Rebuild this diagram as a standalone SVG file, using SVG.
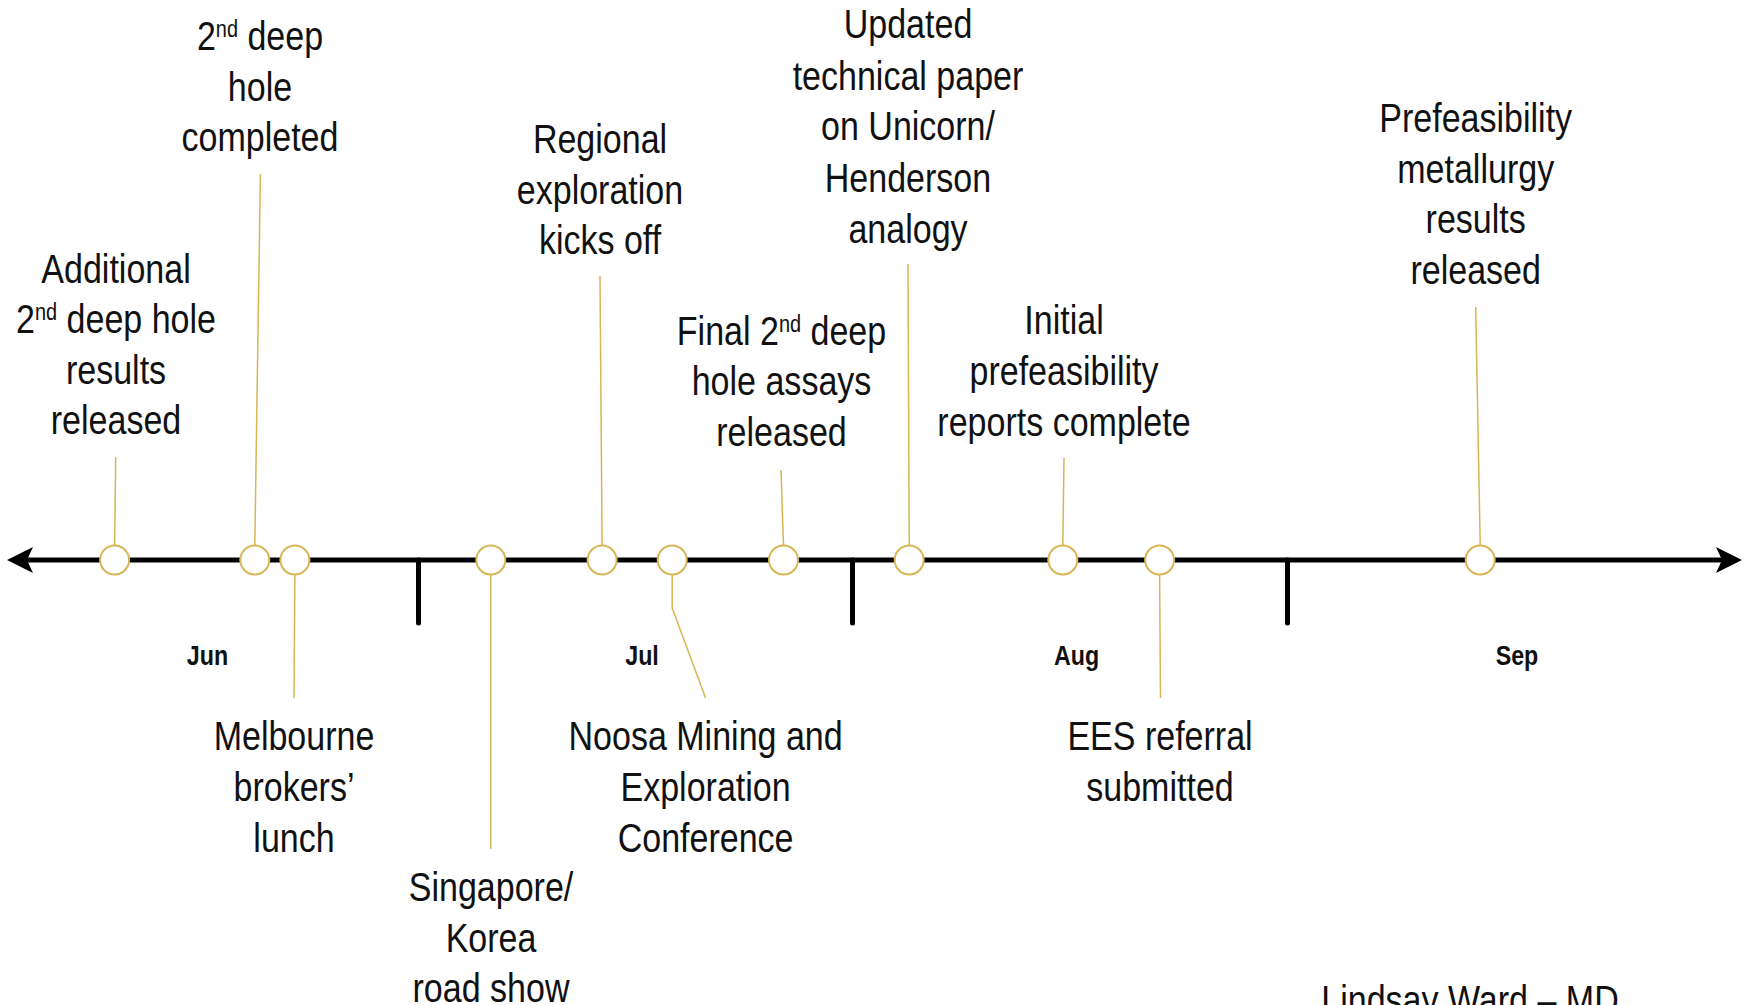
<svg xmlns="http://www.w3.org/2000/svg" width="1745" height="1005" viewBox="0 0 1745 1005">
<style>
  .lbl { font-family: "Liberation Sans", Arial, sans-serif; font-size: 41px; fill: #111; text-anchor: middle; }
  .sup { font-size: 24px; }
  .month { font-family: "Liberation Sans", Arial, sans-serif; font-size: 28px; font-weight: bold; fill: #111; text-anchor: middle; }
  .dot { fill: #fff; stroke: #D8B656; stroke-width: 2; }
  .lead { fill: none; stroke: #D8B656; stroke-width: 1.5; }
  .axis { stroke: #000; stroke-width: 5; fill: none; }
  .tick { stroke: #000; stroke-width: 5; stroke-linecap: round; fill: none; }
  .head { fill: #000; }
</style>
<rect width="1745" height="1005" fill="#fff"/>

<g id="axis">
  <line class="axis" x1="26" y1="560" x2="1722" y2="560"/>
  <path class="head" d="M7,560 L33,547 L27,560 L33,573 Z"/>
  <path class="head" d="M1742,560 L1716,547 L1722,560 L1716,573 Z"/>
  <line class="tick" x1="418.5" y1="560" x2="418.5" y2="623"/>
  <line class="tick" x1="852.5" y1="560" x2="852.5" y2="623"/>
  <line class="tick" x1="1287.5" y1="560" x2="1287.5" y2="623"/>
</g>

<g id="months">
  <g transform="translate(207.5,0) scale(0.83,1)"><text class="month" x="0" y="665">Jun</text></g>
  <g transform="translate(642,0) scale(0.83,1)"><text class="month" x="0" y="665">Jul</text></g>
  <g transform="translate(1076.5,0) scale(0.83,1)"><text class="month" x="0" y="665">Aug</text></g>
  <g transform="translate(1517,0) scale(0.83,1)"><text class="month" x="0" y="665">Sep</text></g>
</g>

<g id="connectors">
  <line class="lead" x1="115.7" y1="457" x2="114.6" y2="545"/>
  <line class="lead" x1="260.4" y1="174" x2="254.8" y2="545"/>
  <line class="lead" x1="294.9" y1="575" x2="294" y2="698"/>
  <line class="lead" x1="490.8" y1="575" x2="490.8" y2="849"/>
  <line class="lead" x1="600" y1="276" x2="602.1" y2="545"/>
  <polyline class="lead" points="672.2,575 672.2,608 705.6,698"/>
  <line class="lead" x1="781" y1="470" x2="783.5" y2="545"/>
  <line class="lead" x1="908" y1="264" x2="909.2" y2="545"/>
  <line class="lead" x1="1064" y1="458" x2="1062.8" y2="545"/>
  <line class="lead" x1="1159.6" y1="575" x2="1160.5" y2="698"/>
  <line class="lead" x1="1475.7" y1="307" x2="1480.2" y2="545"/>
</g>

<g id="n-additional">
  <circle class="dot" cx="114.6" cy="560" r="14.5"/>
  <g transform="translate(116,0) scale(0.83,1)"><text class="lbl"><tspan x="0" y="283">Additional</tspan><tspan x="0" y="333">2<tspan class="sup" dy="-13">nd</tspan><tspan dy="13"> deep hole</tspan></tspan><tspan x="0" y="384">results</tspan><tspan x="0" y="434">released</tspan></text></g>
</g>

<g id="n-completed">
  <circle class="dot" cx="254.8" cy="560" r="14.5"/>
  <g transform="translate(260,0) scale(0.83,1)"><text class="lbl"><tspan x="0" y="50">2<tspan class="sup" dy="-13">nd</tspan><tspan dy="13"> deep</tspan></tspan><tspan x="0" y="101">hole</tspan><tspan x="0" y="151">completed</tspan></text></g>
</g>

<g id="n-melbourne">
  <circle class="dot" cx="294.9" cy="560" r="14.5"/>
  <g transform="translate(294,0) scale(0.83,1)"><text class="lbl"><tspan x="0" y="750">Melbourne</tspan><tspan x="0" y="801">brokers’</tspan><tspan x="0" y="852">lunch</tspan></text></g>
</g>

<g id="n-singapore">
  <circle class="dot" cx="490.8" cy="560" r="14.5"/>
  <g transform="translate(491,0) scale(0.83,1)"><text class="lbl"><tspan x="0" y="901">Singapore/</tspan><tspan x="0" y="952">Korea</tspan><tspan x="0" y="1002">road show</tspan></text></g>
</g>

<g id="n-regional">
  <circle class="dot" cx="602.1" cy="560" r="14.5"/>
  <g transform="translate(600,0) scale(0.83,1)"><text class="lbl"><tspan x="0" y="153">Regional</tspan><tspan x="0" y="204">exploration</tspan><tspan x="0" y="254">kicks off</tspan></text></g>
</g>

<g id="n-noosa">
  <circle class="dot" cx="672.2" cy="560" r="14.5"/>
  <g transform="translate(705.6,0) scale(0.83,1)"><text class="lbl"><tspan x="0" y="750">Noosa Mining and</tspan><tspan x="0" y="801">Exploration</tspan><tspan x="0" y="852">Conference</tspan></text></g>
</g>

<g id="n-final">
  <circle class="dot" cx="783.5" cy="560" r="14.5"/>
  <g transform="translate(781.5,0) scale(0.83,1)"><text class="lbl"><tspan x="0" y="345">Final 2<tspan class="sup" dy="-13">nd</tspan><tspan dy="13"> deep</tspan></tspan><tspan x="0" y="395">hole assays</tspan><tspan x="0" y="446">released</tspan></text></g>
</g>

<g id="n-updated">
  <circle class="dot" cx="909.2" cy="560" r="14.5"/>
  <g transform="translate(908,0) scale(0.83,1)"><text class="lbl"><tspan x="0" y="38">Updated</tspan><tspan x="0" y="90">technical paper</tspan><tspan x="0" y="140">on Unicorn/</tspan><tspan x="0" y="192">Henderson</tspan><tspan x="0" y="243">analogy</tspan></text></g>
</g>

<g id="n-initial">
  <circle class="dot" cx="1062.8" cy="560" r="14.5"/>
  <g transform="translate(1064,0) scale(0.83,1)"><text class="lbl"><tspan x="0" y="334">Initial</tspan><tspan x="0" y="385">prefeasibility</tspan><tspan x="0" y="436">reports complete</tspan></text></g>
</g>

<g id="n-ees">
  <circle class="dot" cx="1159.6" cy="560" r="14.5"/>
  <g transform="translate(1160,0) scale(0.83,1)"><text class="lbl"><tspan x="0" y="750">EES referral</tspan><tspan x="0" y="801">submitted</tspan></text></g>
</g>

<g id="n-prefeas">
  <circle class="dot" cx="1480.2" cy="560" r="14.5"/>
  <g transform="translate(1475.7,0) scale(0.83,1)"><text class="lbl"><tspan x="0" y="132">Prefeasibility</tspan><tspan x="0" y="183">metallurgy</tspan><tspan x="0" y="233">results</tspan><tspan x="0" y="284">released</tspan></text></g>
</g>

<g id="footer">
  <g transform="translate(1470,0) scale(0.83,1)"><text class="lbl" x="0" y="1014">Lindsay Ward – MD</text></g>
</g>
</svg>
